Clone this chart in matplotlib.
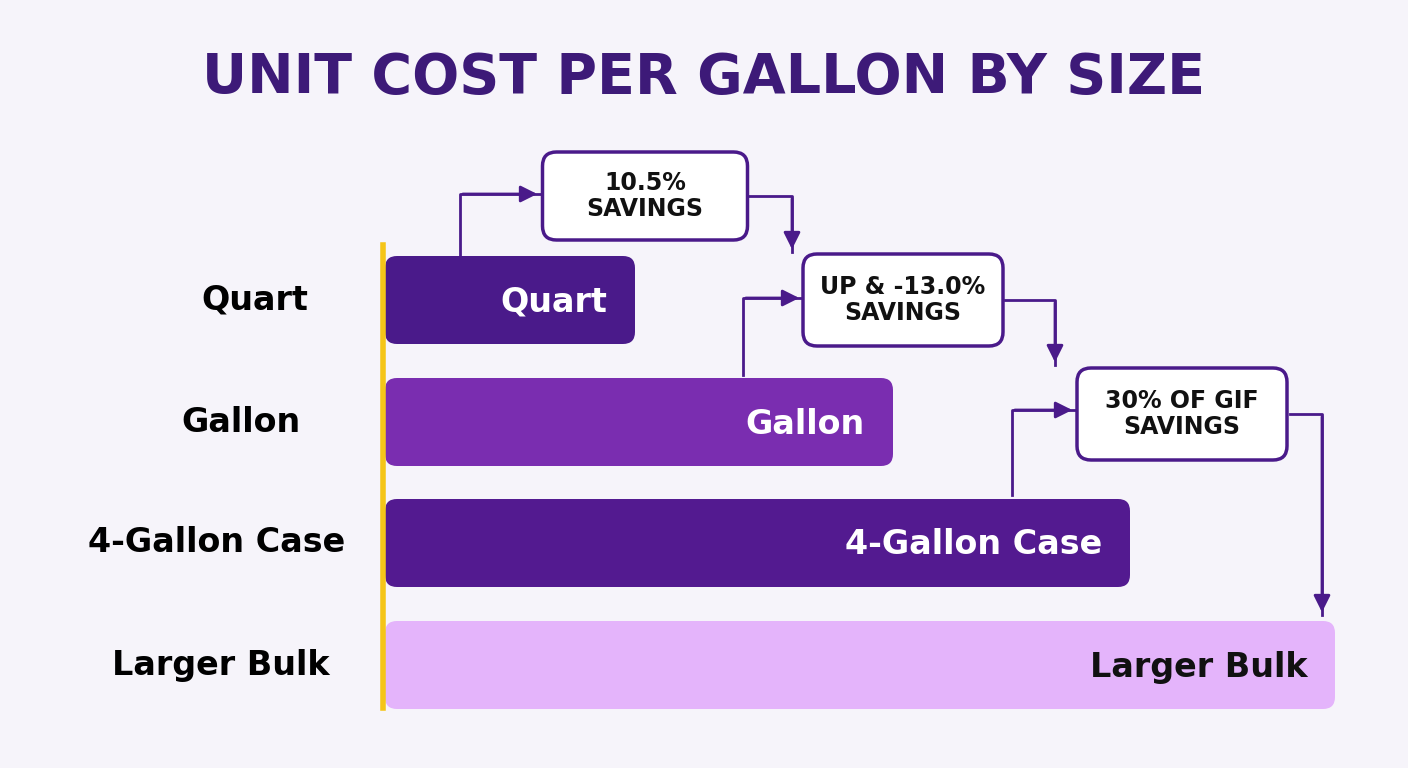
import matplotlib
matplotlib.use("Agg")
import matplotlib.pyplot as plt
from matplotlib.patches import FancyBboxPatch

categories = ["Quart", "Gallon", "4-Gallon Case", "Larger Bulk"]
values = [250, 508, 745, 950]
colors = ["#4a1a8a", "#7a2db0", "#531a90", "#e4b4fb"]
text_colors = ["white", "white", "white", "#111111"]
callouts = ["10.5%\nSAVINGS", "UP & -13.0%\nSAVINGS", "30% OF GIF\nSAVINGS"]

plt.rcParams['font.family'] = ['DejaVu Sans']
fig = plt.figure(figsize=(14.08, 7.68), dpi=100)
fig.patch.set_facecolor("#f6f4fa")
ax = fig.add_axes([0, 0, 1, 1])
ax.set_xlim(0, 1408); ax.set_ylim(768, 0); ax.axis("off")

x0 = 385
ys = [300, 422, 543, 665]
label_x = [255, 241, 217, 221]
for c, v, col, tc, y, lx in zip(categories, values, colors, text_colors, ys, label_x):
    bars = ax.barh(y, v, left=x0, height=88, color=col, zorder=2)
    b = bars[0]
    b.set_visible(False)
    ax.add_patch(FancyBboxPatch((b.get_x(), b.get_y()), b.get_width(), b.get_height(),
                                boxstyle="round,pad=0,rounding_size=12", fc=col, ec="none", zorder=2))
    ax.text(x0 + v - 28, y + 2, c, ha="right", va="center", fontsize=24, fontweight="bold", color=tc, zorder=3)
    ax.text(lx, y, c, ha="center", va="center", fontsize=24, fontweight="bold", color="black")
ax.plot([383, 383], [245, 708], color="#f5c518", lw=4, zorder=4)

ax.text(704, 78, "UNIT COST PER GALLON BY SIZE", ha="center", va="center", fontsize=40, fontweight="bold", color="#3d1a78")

boxes = [(645, 196, 205, 88), (903, 300, 200, 92), (1182, 414, 210, 92)]
for (cx, cy, w, h), t in zip(boxes, callouts):
    ax.add_patch(FancyBboxPatch((cx - w/2, cy - h/2), w, h, boxstyle="round,pad=0,rounding_size=14",
                                fc="white", ec="#4a1a8a", lw=2.5, zorder=5))
    ax.text(cx, cy, t, ha="center", va="center", fontsize=17, fontweight="bold", color="#111111", zorder=6, linespacing=1.1)

acol = "#4a1a8a"
def path(pts):
    xs = [p[0] for p in pts]; yy = [p[1] for p in pts]
    ax.plot(xs, yy, color=acol, lw=2, zorder=1)
    ax.annotate("", xy=pts[-1], xytext=pts[-2],
                arrowprops=dict(arrowstyle="-|>,head_width=0.5,head_length=1.0", color=acol, lw=2), zorder=1)

path([(460, 255), (460, 194), (540, 194)])
path([(748, 196), (792, 196), (792, 252)])
path([(743, 375), (743, 298), (802, 298)])
path([(1005, 300), (1055, 300), (1055, 365)])
path([(1012, 495), (1012, 410), (1075, 410)])
path([(1290, 414), (1322, 414), (1322, 615)])

fig.savefig("out.png", dpi=100, facecolor=fig.get_facecolor())
